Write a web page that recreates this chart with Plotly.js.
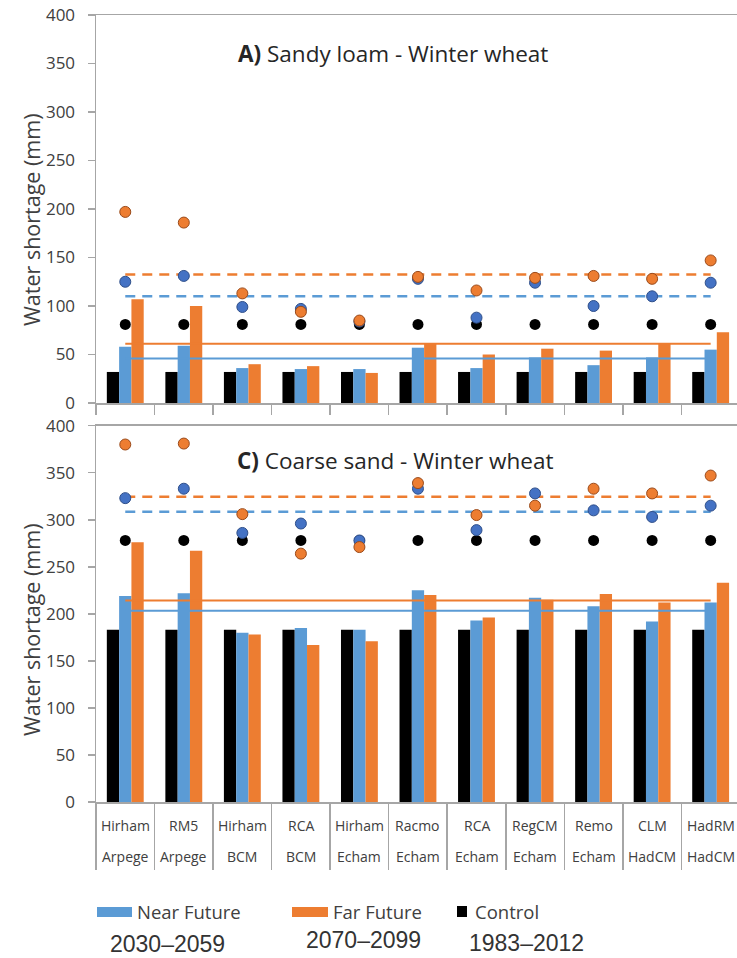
<!DOCTYPE html>
<html>
<head>
<meta charset="utf-8">
<script src="https://cdn.plot.ly/plotly-3.0.1.min.js"></script>
<style>html,body{margin:0;padding:0;background:#fff;}#chart{width:737px;height:958px;}</style>
</head>
<body>
<div id="chart"></div>
<script>
// ---- Data ----
const rcm = ["Hirham","RM5","Hirham","RCA","Hirham","Racmo","RCA","RegCM","Remo","CLM","HadRM"];
const gcm = ["Arpege","Arpege","BCM","BCM","Echam","Echam","Echam","Echam","Echam","HadCM","HadCM"];

// Panel A: Sandy loam - Winter wheat (bars)
const controlBarA = [32,32,32,32,32,32,32,32,32,32,32];
const nearBarA    = [58,59,36,35,35,57,36,47,39,47,55];
const farBarA     = [107,100,40,38,31,61,50,56,54,61,73];
// Panel A dots
const controlDotA = [81,81,81,81,81,81,81,81,81,81,81];
const nearDotA    = [125,131,99,97,84,128,88,124,100,110,124];
const farDotA     = [197,186,113,94,85,130,116,129,131,128,147];

// Panel C: Coarse sand - Winter wheat (bars)
const controlBarC = [183,183,183,183,183,183,183,183,183,183,183];
const nearBarC    = [219,222,180,185,183,225,193,217,208,192,212];
const farBarC     = [276,267,178,167,171,220,196,215,221,212,233];
// Panel C dots
const controlDotC = [278,278,278,278,278,278,278,278,278,278,278];
const nearDotC    = [323,333,286,296,278,333,289,328,310,303,315];
const farDotC     = [380,381,306,264,271,339,305,315,333,328,347];

const yTicks = [0,50,100,150,200,250,300,350,400];

// ---- Helpers ----
const cats = rcm.map((r,i)=>r+" "+gcm[i]);
const mean = a => a.reduce((s,v)=>s+v,0)/a.length;
const rep = v => cats.map(()=>v);

const BLUE="#5b9bd5", ORANGE="#ed7d31", DOTBLUE="#4472c4", BLACK="#000000";
const AX="#a6a6a6";
const FONT="'Open Sans', Lato, sans-serif";
const TXT="#404040";

const L=96, T=15, B=156, WID=737, HEI=958;
const W=WID-L, H=HEI-T-B;
const pxX = x => (x-L)/W;
const pxY = y => (T+H-y)/H;

function panel(xa, ya, ctrlBar, nearBar, farBar, ctrlDot, nearDot, farDot){
  const t=[];
  const bar=(y,c,n)=>({type:"bar",x:cats,y:y,name:n,xaxis:xa,yaxis:ya,marker:{color:c,line:{width:0}},showlegend:false,hoverinfo:"y"});
  t.push(bar(ctrlBar,BLACK,"Control"));
  t.push(bar(nearBar,BLUE,"Near Future"));
  t.push(bar(farBar,ORANGE,"Far Future"));
  const line=(v,c,d,w)=>({type:"scatter",mode:"lines",x:cats,y:rep(v),xaxis:xa,yaxis:ya,line:{color:c,width:w,dash:d},showlegend:false,hoverinfo:"skip"});
  t.push(line(mean(nearBar),BLUE,"solid",2));
  t.push(line(mean(farBar),ORANGE,"solid",2));
  t.push(line(mean(nearDot),BLUE,"10px,7px",2.5));
  t.push(line(mean(farDot),ORANGE,"10px,7px",2.5));
  const dot=(y,c,lc,lw)=>({type:"scatter",mode:"markers",x:cats,y:y,xaxis:xa,yaxis:ya,marker:{color:c,size:11,line:{color:lc,width:lw}},showlegend:false,hoverinfo:"y"});
  t.push(dot(ctrlDot,BLACK,BLACK,0));
  t.push(dot(nearDot,DOTBLUE,"#2f4f8a",1));
  t.push(dot(farDot,ORANGE,"#9a4a1a",1));
  return t;
}

const data = [].concat(
  panel("x","y",controlBarA,nearBarA,farBarA,controlDotA,nearDotA,farDotA),
  panel("x2","y2",controlBarC,nearBarC,farBarC,controlDotC,nearDotC,farDotC)
);

const xCommon = {
  type:"category", categoryorder:"array", categoryarray:cats,
  range:[-0.5,10.45], showline:true, mirror:true, linecolor:AX, linewidth:1.5,
  ticks:"outside", tickson:"boundaries", tickcolor:AX, tickwidth:1.5,
  showticklabels:false, showgrid:false, zeroline:false, fixedrange:true
};
const yCommon = {
  range:[0,400], tickvals:yTicks, ticktext:yTicks.map(String),
  showline:true, linecolor:AX, linewidth:1.5, ticks:"outside", ticklen:7,
  tickcolor:AX, tickwidth:1.5, showgrid:false, zeroline:false,
  tickfont:{family:FONT,size:17,color:TXT}, ticklabelstandoff:9, fixedrange:true
};

const annotations = [];
const shapes = [];
// Y titles
[220,630].forEach(cy=>{
  annotations.push({xref:"paper",yref:"paper",x:pxX(31),y:pxY(cy),text:"Water shortage (mm)",textangle:-90,showarrow:false,
    xanchor:"center",yanchor:"middle",font:{family:FONT,size:21.5,color:TXT}});
});
// Panel titles
annotations.push({xref:"paper",yref:"paper",x:pxX(393),y:pxY(53),text:"<b>A)</b> Sandy loam - Winter wheat",showarrow:false,
  xanchor:"center",yanchor:"middle",font:{family:FONT,size:22.5,color:"#262626"}});
annotations.push({xref:"paper",yref:"paper",x:pxX(395),y:pxY(461),text:"<b>C)</b> Coarse sand - Winter wheat",showarrow:false,
  xanchor:"center",yanchor:"middle",font:{family:FONT,size:22.5,color:"#262626"}});
// Category labels (two rows)
cats.forEach((c,i)=>{
  annotations.push({xref:"x2",yref:"paper",x:c,y:pxY(825),text:rcm[i],showarrow:false,xanchor:"center",yanchor:"middle",
    font:{family:FONT,size:14,color:TXT}});
  annotations.push({xref:"x2",yref:"paper",x:c,y:pxY(857),text:gcm[i],showarrow:false,xanchor:"center",yanchor:"middle",
    font:{family:FONT,size:14,color:TXT}});
});
// Legend
const legItems = [
  {x0:97,x1:132,y0:907,y1:917,c:BLUE,tx:135,label:"Near Future",yr:"2030–2059",yx:167,yy:944},
  {x0:292,x1:328,y0:907,y1:917,c:ORANGE,tx:331,label:"Far Future",yr:"2070–2099",yx:363,yy:940},
  {x0:457,x1:467,y0:906,y1:917,c:BLACK,tx:473,label:"Control",yr:"1983–2012",yx:526,yy:943}
];
legItems.forEach(it=>{
  shapes.push({type:"rect",xref:"paper",yref:"paper",x0:pxX(it.x0),x1:pxX(it.x1),y0:pxY(it.y1),y1:pxY(it.y0),
    fillcolor:it.c,line:{width:0}});
  annotations.push({xref:"paper",yref:"paper",x:pxX(it.tx),y:pxY(911),text:it.label,showarrow:false,xanchor:"left",yanchor:"middle",
    font:{family:FONT,size:18.5,color:TXT}});
  annotations.push({xref:"paper",yref:"paper",x:pxX(it.yx),y:pxY(it.yy),text:it.yr,showarrow:false,xanchor:"center",yanchor:"middle",
    borderpad:0,font:{family:"'Liberation Sans', Arial, sans-serif",size:23,color:"#333333"}});
});

const layout = {
  width:WID, height:HEI,
  margin:{l:L,r:0,t:T,b:B,pad:0},
  paper_bgcolor:"#ffffff", plot_bgcolor:"#ffffff",
  barmode:"group", bargap:0.37, bargroupgap:0,
  showlegend:false,
  xaxis:Object.assign({},xCommon,{anchor:"y",ticklen:10}),
  yaxis:Object.assign({},yCommon,{anchor:"x",domain:[(T+H-403)/H,1]}),
  xaxis2:Object.assign({},xCommon,{anchor:"y2",ticklen:66}),
  yaxis2:Object.assign({},yCommon,{anchor:"x2",domain:[0,(T+H-425.7)/H]}),
  annotations:annotations, shapes:shapes
};

Plotly.newPlot("chart",data,layout,{displayModeBar:false,staticPlot:true});
</script>
</body>
</html>
